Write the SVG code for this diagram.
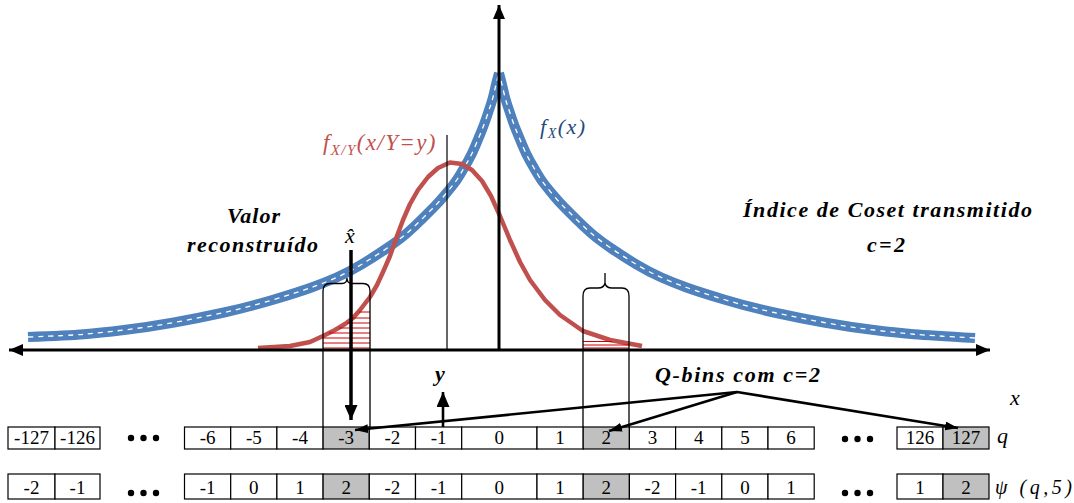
<svg xmlns="http://www.w3.org/2000/svg" width="1074" height="503" viewBox="0 0 1074 503">
<defs>
<marker id="ahAx" viewBox="0 0 10 10" refX="10" refY="5" markerWidth="14" markerHeight="12" markerUnits="userSpaceOnUse" orient="auto-start-reverse" preserveAspectRatio="none"><path d="M0,0 L10,5 L0,10 z" fill="#000"/></marker>
<marker id="ahBig" viewBox="0 0 10 10" refX="10" refY="5" markerWidth="15" markerHeight="13" markerUnits="userSpaceOnUse" orient="auto" preserveAspectRatio="none"><path d="M0,0 L10,5 L0,10 z" fill="#000"/></marker>
<marker id="ahSm" viewBox="0 0 10 10" refX="10" refY="5" markerWidth="13" markerHeight="9" markerUnits="userSpaceOnUse" orient="auto" preserveAspectRatio="none"><path d="M0,0 L10,5 L0,10 z" fill="#000"/></marker>
<path id="armL" d="M28,337 Q69,335.5 84,334.25 Q99,333 124,330 Q149,327 174,322.5 Q199,318 224,312.5 Q249,307 274,299.5 Q299,292 311.5,287.5 Q324,283 336.5,277.5 Q349,272 361.5,264.5 Q374,257 386.5,248.5 Q399,240 406.5,233.5 Q414,227 421.5,219.5 Q429,212 434,207 Q439,202 444,196 Q449,190 453,185 Q457,180 460.5,174 Q464,168 468,161 Q472,154 475.5,145.5 Q479,137 481.5,131 Q484,125 486.5,117.5 Q489,110 491,104 Q493,98 494.5,91 Q496,84 499,73"/>
<path id="armR" d="M975,338 Q929,335.5 914,334.25 Q899,333 874,330 Q849,327 824,322.5 Q799,318 774,312.5 Q749,307 724,299.5 Q699,292 686.5,287.5 Q674,283 661.5,277.5 Q649,272 636.5,264.5 Q624,257 611.5,248.5 Q599,240 591.5,233.5 Q584,227 576.5,219.5 Q569,212 564,207 Q559,202 554,196 Q549,190 545,185 Q541,180 537.5,174 Q534,168 530,161 Q526,154 522.5,145.5 Q519,137 516.5,131 Q514,125 511.5,117.5 Q509,110 507,104 Q505,98 503.5,91 Q502,84 499,73"/>
</defs>
<rect width="1074" height="503" fill="#fff"/>

<g id="curve-fx" fill="none">
<g stroke="#4f81bd" stroke-width="10" stroke-linejoin="round">
<use href="#armL"/><use href="#armR"/>
</g>
<g stroke="#fff" stroke-width="1.3" stroke-dasharray="5 5">
<use href="#armL"/><use href="#armR"/>
</g>
</g>

<g id="curve-fxy">
<polyline fill="none" stroke="#c0504d" stroke-width="4.5" stroke-linejoin="round" points="258,348 290,346 310,342 323,336 335,330 345,324 353,318 360,310 370,297 377,285 383,272 390,256 397,236 403,220 410,204 418,190 428,177 438,168 450,162.5 462,164 472,170 482,181 491,196 500,216 510,240 520,262 530,280 545,300 560,315 583,331 610,340 642,346"/>
</g>

<g id="hatch" stroke="#d00000" stroke-width="1">
<line x1="359" y1="312" x2="370" y2="312"/>
<line x1="352" y1="318" x2="370" y2="318"/>
<line x1="347" y1="323" x2="370" y2="323"/>
<line x1="339" y1="328" x2="370" y2="328"/>
<line x1="329" y1="333" x2="370" y2="333"/>
<line x1="323" y1="338" x2="370" y2="338"/>
<line x1="323" y1="343" x2="370" y2="343"/>
<line x1="323" y1="348" x2="370" y2="348"/>
<line x1="583" y1="341.5" x2="612" y2="341.5"/>
<line x1="583" y1="345" x2="629" y2="345"/>
<line x1="583" y1="348" x2="629" y2="348"/>
</g>

<g id="y-line">
<line x1="447" y1="135" x2="447" y2="350" stroke="#000" stroke-width="1.2"/>
</g>

<g id="axes" stroke="#000" stroke-width="3" fill="none">
<line x1="9" y1="350" x2="990" y2="350" marker-start="url(#ahAx)" marker-end="url(#ahAx)"/>
<line x1="499" y1="350" x2="499" y2="5" marker-end="url(#ahAx)"/>
</g>

<g id="bin-left" fill="none" stroke="#000" stroke-width="1.3">
<path d="M323,427 V291 Q323,283.5 330,283.5 H342 Q347,283.5 347,278 Q347,283.5 352,283.5 H363 Q370,283.5 370,291 V427"/>
</g>
<g id="bin-right" fill="none" stroke="#000" stroke-width="1.3">
<path d="M583,427 V296 Q583,288 590,288 H598 Q604,288 605,283 Q606,288 612,288 H622 Q629,288 629,296 V427 M605,283 V273"/>
</g>

<g id="row-q">
<g fill="#fff" stroke="#000" stroke-width="1.2">
<rect x="8" y="427" width="47" height="22"/>
<rect x="55" y="427" width="45" height="22"/>
<rect x="184.5" y="427" width="46.2" height="22"/>
<rect x="230.7" y="427" width="46.2" height="22"/>
<rect x="276.9" y="427" width="46.2" height="22"/>
<rect x="323.1" y="427" width="46.2" height="22" fill="#c0c0c0"/>
<rect x="369.3" y="427" width="46.2" height="22"/>
<rect x="415.5" y="427" width="46.2" height="22"/>
<rect x="461.7" y="427" width="75.3" height="22"/>
<rect x="537" y="427" width="46.2" height="22"/>
<rect x="583.2" y="427" width="46.2" height="22" fill="#c0c0c0"/>
<rect x="629.4" y="427" width="46.2" height="22"/>
<rect x="675.6" y="427" width="46.2" height="22"/>
<rect x="721.8" y="427" width="46.2" height="22"/>
<rect x="768" y="427" width="46.2" height="22"/>
<rect x="897" y="427" width="46" height="22"/>
<rect x="943" y="427" width="46" height="22" fill="#c0c0c0"/>
</g>
<text x="31.5" y="444" font-family="Liberation Serif" font-size="19" text-anchor="middle">-127</text>
<text x="77.5" y="444" font-family="Liberation Serif" font-size="19" text-anchor="middle">-126</text>
<text x="207.6" y="444" font-family="Liberation Serif" font-size="19" text-anchor="middle">-6</text>
<text x="253.8" y="444" font-family="Liberation Serif" font-size="19" text-anchor="middle">-5</text>
<text x="300" y="444" font-family="Liberation Serif" font-size="19" text-anchor="middle">-4</text>
<text x="346.2" y="444" font-family="Liberation Serif" font-size="19" text-anchor="middle">-3</text>
<text x="392.4" y="444" font-family="Liberation Serif" font-size="19" text-anchor="middle">-2</text>
<text x="438.6" y="444" font-family="Liberation Serif" font-size="19" text-anchor="middle">-1</text>
<text x="499.3" y="444" font-family="Liberation Serif" font-size="19" text-anchor="middle">0</text>
<text x="560.1" y="444" font-family="Liberation Serif" font-size="19" text-anchor="middle">1</text>
<text x="606.3" y="444" font-family="Liberation Serif" font-size="19" text-anchor="middle">2</text>
<text x="652.5" y="444" font-family="Liberation Serif" font-size="19" text-anchor="middle">3</text>
<text x="698.7" y="444" font-family="Liberation Serif" font-size="19" text-anchor="middle">4</text>
<text x="744.9" y="444" font-family="Liberation Serif" font-size="19" text-anchor="middle">5</text>
<text x="791.1" y="444" font-family="Liberation Serif" font-size="19" text-anchor="middle">6</text>
<text x="920" y="444" font-family="Liberation Serif" font-size="19" text-anchor="middle">126</text>
<text x="966" y="444" font-family="Liberation Serif" font-size="19" text-anchor="middle">127</text>
<g fill="#000">
<circle cx="131" cy="438" r="3.2"/><circle cx="143.5" cy="438" r="3.2"/><circle cx="156" cy="438" r="3.2"/>
<circle cx="845" cy="439" r="3.2"/><circle cx="857.5" cy="439" r="3.2"/><circle cx="870" cy="439" r="3.2"/>
</g>
<text x="997" y="443" font-family="Liberation Serif" font-size="22" font-style="italic">q</text>
</g>

<g id="row-psi">
<g fill="#fff" stroke="#000" stroke-width="1.2">
<rect x="8" y="474" width="47" height="25"/>
<rect x="55" y="474" width="45" height="25"/>
<rect x="184.5" y="474" width="46.2" height="25"/>
<rect x="230.7" y="474" width="46.2" height="25"/>
<rect x="276.9" y="474" width="46.2" height="25"/>
<rect x="323.1" y="474" width="46.2" height="25" fill="#c0c0c0"/>
<rect x="369.3" y="474" width="46.2" height="25"/>
<rect x="415.5" y="474" width="46.2" height="25"/>
<rect x="461.7" y="474" width="75.3" height="25"/>
<rect x="537" y="474" width="46.2" height="25"/>
<rect x="583.2" y="474" width="46.2" height="25" fill="#c0c0c0"/>
<rect x="629.4" y="474" width="46.2" height="25"/>
<rect x="675.6" y="474" width="46.2" height="25"/>
<rect x="721.8" y="474" width="46.2" height="25"/>
<rect x="768" y="474" width="46.2" height="25"/>
<rect x="897" y="474" width="46" height="25"/>
<rect x="943" y="474" width="46" height="25" fill="#c0c0c0"/>
</g>
<text x="31.5" y="494" font-family="Liberation Serif" font-size="19" text-anchor="middle">-2</text>
<text x="77.5" y="494" font-family="Liberation Serif" font-size="19" text-anchor="middle">-1</text>
<text x="207.6" y="494" font-family="Liberation Serif" font-size="19" text-anchor="middle">-1</text>
<text x="253.8" y="494" font-family="Liberation Serif" font-size="19" text-anchor="middle">0</text>
<text x="300" y="494" font-family="Liberation Serif" font-size="19" text-anchor="middle">1</text>
<text x="346.2" y="494" font-family="Liberation Serif" font-size="19" text-anchor="middle">2</text>
<text x="392.4" y="494" font-family="Liberation Serif" font-size="19" text-anchor="middle">-2</text>
<text x="438.6" y="494" font-family="Liberation Serif" font-size="19" text-anchor="middle">-1</text>
<text x="499.3" y="494" font-family="Liberation Serif" font-size="19" text-anchor="middle">0</text>
<text x="560.1" y="494" font-family="Liberation Serif" font-size="19" text-anchor="middle">1</text>
<text x="606.3" y="494" font-family="Liberation Serif" font-size="19" text-anchor="middle">2</text>
<text x="652.5" y="494" font-family="Liberation Serif" font-size="19" text-anchor="middle">-2</text>
<text x="698.7" y="494" font-family="Liberation Serif" font-size="19" text-anchor="middle">-1</text>
<text x="744.9" y="494" font-family="Liberation Serif" font-size="19" text-anchor="middle">0</text>
<text x="791.1" y="494" font-family="Liberation Serif" font-size="19" text-anchor="middle">1</text>
<text x="920" y="494" font-family="Liberation Serif" font-size="19" text-anchor="middle">1</text>
<text x="966" y="494" font-family="Liberation Serif" font-size="19" text-anchor="middle">2</text>
<g fill="#000">
<circle cx="131" cy="493" r="3.2"/><circle cx="143.5" cy="493" r="3.2"/><circle cx="156" cy="493" r="3.2"/>
<circle cx="845" cy="493" r="3.2"/><circle cx="857.5" cy="493" r="3.2"/><circle cx="870" cy="493" r="3.2"/>
</g>
<text x="995" y="494" textLength="77" lengthAdjust="spacing" font-family="Liberation Serif" font-size="20" font-style="italic">ψ (q,5)</text>
</g>

<g id="connectors" stroke="#000" stroke-width="2.6" fill="none">
<line x1="351" y1="250" x2="351" y2="420" stroke-width="3.5" marker-end="url(#ahBig)"/>
<line x1="443" y1="427" x2="443" y2="392" marker-end="url(#ahBig)"/>
<line x1="737" y1="392" x2="355" y2="430" marker-end="url(#ahSm)"/>
<line x1="737" y1="392" x2="609" y2="431" marker-end="url(#ahSm)"/>
<line x1="737" y1="392" x2="958" y2="428" marker-end="url(#ahSm)"/>
</g>

<g id="labels">
<text x="323" y="150" letter-spacing="1.4" font-family="Liberation Serif" font-size="23" font-style="italic" fill="#c0504d">f<tspan dy="5" font-size="15">X/Y</tspan><tspan dy="-5">(x/Y=y)</tspan></text>
<text x="540" y="134" letter-spacing="1.5" font-family="Liberation Serif" font-size="22" font-style="italic" fill="#254a7a">f<tspan dy="4" font-size="14">X</tspan><tspan dy="-4">(x)</tspan></text>
<text x="227" y="223" textLength="53" lengthAdjust="spacing" font-family="Liberation Serif" font-size="22" font-style="italic" font-weight="bold">Valor</text>
<text x="187" y="252" textLength="131" lengthAdjust="spacing" font-family="Liberation Serif" font-size="22" font-style="italic" font-weight="bold">reconstruído</text>
<text x="350" y="243" font-family="Liberation Serif" font-size="22" font-style="italic" text-anchor="middle">x̂</text>
<text x="743" y="217" textLength="289" lengthAdjust="spacing" font-family="Liberation Serif" font-size="22" font-style="italic" font-weight="bold">Índice de Coset transmitido</text>
<text x="867" y="252" textLength="38" lengthAdjust="spacing" font-family="Liberation Serif" font-size="22" font-style="italic" font-weight="bold">c=2</text>
<text x="655" y="382" textLength="165" lengthAdjust="spacing" font-family="Liberation Serif" font-size="22" font-style="italic" font-weight="bold">Q-bins com c=2</text>
<text x="435" y="381" font-family="Liberation Serif" font-size="22" font-style="italic" font-weight="bold">y</text>
<text x="1010" y="405" font-family="Liberation Serif" font-size="22" font-style="italic">x</text>
</g>
</svg>
